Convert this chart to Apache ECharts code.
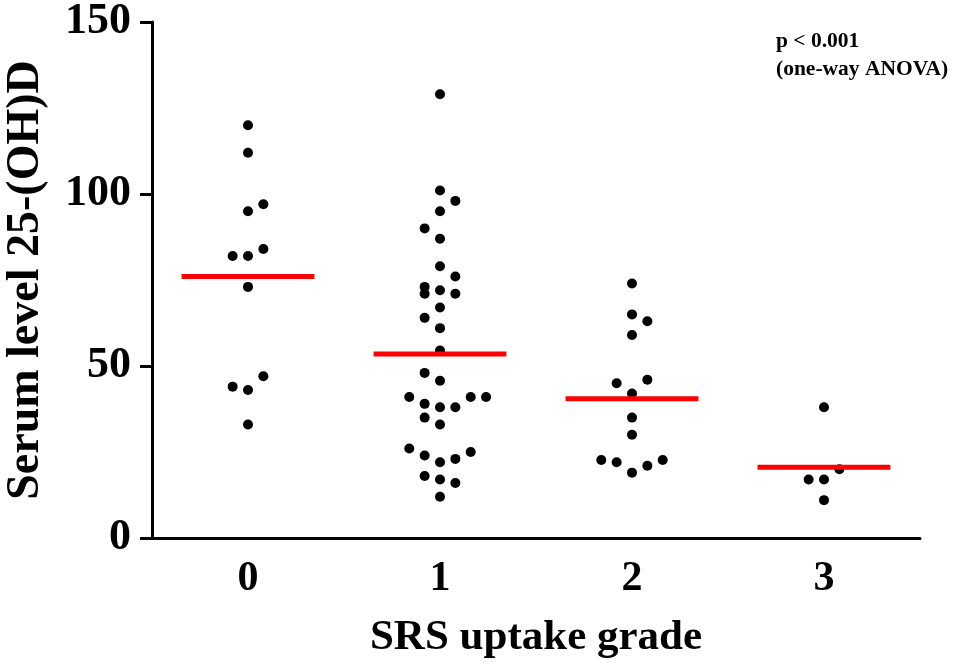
<!DOCTYPE html>
<html>
<head>
<meta charset="utf-8">
<script src="https://cdn.jsdelivr.net/npm/echarts@6/dist/echarts.min.js"></script>
<style>
html,body{margin:0;padding:0;background:#fff;}
#chart{width:963px;height:663px;}
</style>
</head>
<body>
<div id="chart"></div>
<script>
// ---- data ----
var categories = ['0', '1', '2', '3'];
var yTicks = [0, 50, 100, 150];

var grade0Values = [120, 112, 95, 97, 82, 82, 84, 73, 47, 44, 43, 33];
var grade0Slots  = [0, 0, 0, 1, -1, 0, 1, 0, 1, -1, 0, 0];

var grade1Values = [129, 101, 98, 95, 90, 87, 79, 76, 73, 71, 72, 71, 67, 64, 61, 54.5, 48, 45.7,
                    41, 39, 38, 38, 41, 41, 35, 33, 26, 24, 22, 23, 25, 18, 17, 16, 12];
var grade1Slots  = [0, 0, 1, 0, -1, 0, 0, 1, -1, -1, 0, 1, 0, -1, 0, 0, -1, 0,
                    -2, -1, 0, 1, 2, 3, -1, 0, -2, -1, 0, 1, 2, -1, 0, 1, 0];

var grade2Values = [74, 65, 63, 59, 45, 46, 42, 35, 30, 22.7, 22, 19, 21, 22.7];
var grade2Slots  = [0, 0, 1, 0, -1, 1, 0, 0, 0, -2, -1, 0, 1, 2];

var grade3Values = [38, 20, 17, 17, 11];
var grade3Slots  = [0, 1, -1, 0, 0];

var annotationLines = ['p < 0.001', '(one-way ANOVA)'];

// ---- build ----
var groups = [
  {v: grade0Values, s: grade0Slots},
  {v: grade1Values, s: grade1Slots},
  {v: grade2Values, s: grade2Slots},
  {v: grade3Values, s: grade3Slots}
];
var slotWidth = 0.08;   // horizontal spacing of stacked dots (category units)
var meanHalf = 0.346;   // half length of mean bar (category units)

var points = [];
var series = [];
groups.forEach(function (g, gi) {
  g.v.forEach(function (val, i) {
    points.push([gi + g.s[i] * slotWidth, val]);
  });
});
series.push({
  type: 'scatter', xAxisIndex: 1, yAxisIndex: 0,
  symbol: 'circle', symbolSize: 10,
  itemStyle: {color: '#000', opacity: 1},
  data: points, z: 2, silent: true
});
groups.forEach(function (g, gi) {
  var m = g.v.reduce(function (a, b) { return a + b; }, 0) / g.v.length;
  series.push({
    type: 'line', xAxisIndex: 1, yAxisIndex: 0,
    symbol: 'none', lineStyle: {color: '#ff0000', width: 5, cap: 'butt'},
    data: [[gi - meanHalf, m], [gi + meanHalf, m]], z: 5, silent: true
  });
});

var FONT = '"Liberation Serif", "Times New Roman", serif';

var chart = echarts.init(document.getElementById('chart'), null, {renderer: 'canvas'});
chart.setOption({
  animation: false,
  backgroundColor: '#fff',
  grid: {left: 152, right: 43, top: 22, bottom: 125, containLabel: false, outerBoundsMode: 'none'},
  xAxis: [{
    type: 'category', data: categories, boundaryGap: true,
    name: 'SRS uptake grade', nameLocation: 'middle', nameGap: 78,
    nameTextStyle: {fontFamily: FONT, fontWeight: 'bold', fontSize: 43, color: '#000'},
    axisLine: {onZero: false, lineStyle: {color: '#000', width: 3}},
    axisTick: {alignWithLabel: true, length: 12, lineStyle: {color: '#000', width: 3}},
    axisLabel: {fontFamily: FONT, fontWeight: 'bold', fontSize: 42, color: '#000', margin: 20},
    splitLine: {show: false}
  }, {
    type: 'value', min: -0.5, max: 3.5, show: false
  }],
  yAxis: [{
    type: 'value', min: yTicks[0], max: yTicks[yTicks.length - 1], interval: 50,
    name: 'Serum level 25-(OH)D', nameLocation: 'middle', nameGap: 103,
    nameTextStyle: {fontFamily: FONT, fontWeight: 'bold', fontSize: 46, color: '#000'},
    axisLine: {show: true, onZero: false, lineStyle: {color: '#000', width: 3}},
    axisTick: {show: true, length: 12, lineStyle: {color: '#000', width: 3}},
    axisLabel: {fontFamily: FONT, fontWeight: 'bold', fontSize: 44, color: '#000', margin: 21},
    splitLine: {show: false}
  }],
  graphic: [{
    type: 'text', left: 776, top: 27,
    style: {text: annotationLines.join('\n'), fontFamily: FONT, fontWeight: 'bold', fontSize: 21.5,
            lineHeight: 28, fill: '#000'}
  }],
  series: series
});
</script>
</body>
</html>
